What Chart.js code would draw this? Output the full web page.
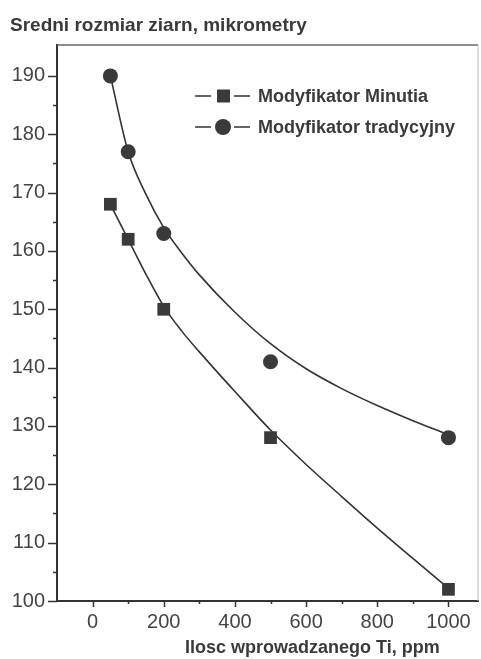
<!DOCTYPE html>
<html><head><meta charset="utf-8">
<script src="https://cdn.jsdelivr.net/npm/chart.js@4/dist/chart.umd.min.js"></script>
<style>html,body{margin:0;padding:0;background:#fff}#wrap{width:481px;height:659px;position:relative}</style>
</head><body><div id="wrap"><canvas id="c" width="481" height="659"></canvas></div>
<script>
// measured points
const doseTi = [50, 100, 200, 500, 1000];
const minutiaSize = [168, 162, 150, 128, 102];
const tradSize = [190, 177, 163, 141, 128];
// fitted curves
const minutiaFitX = [50, 100, 150, 200, 250, 300, 400, 500, 600, 700, 800, 900, 1000];
const minutiaFitY = [168, 162, 156, 150.5, 146.3, 142.7, 135.9, 129.3, 123.4, 117.9, 112.5, 107.3, 102.2];
const tradFitX = [50, 100, 150, 200, 250, 300, 400, 500, 600, 700, 800, 900, 1000];
const tradFitY = [190, 177, 169.7, 164.0, 159.7, 155.9, 149.5, 144.1, 139.8, 136.4, 133.5, 130.9, 128.5];
// ticks and labels
const xTickValues = [0, 100, 200, 300, 400, 500, 600, 700, 800, 900, 1000];
const xTickLabels = [0, 200, 400, 600, 800, 1000];
const yTickValues = [100, 105, 110, 115, 120, 125, 130, 135, 140, 145, 150, 155, 160, 165, 170, 175, 180, 185, 190];
const yTickLabels = [100, 110, 120, 130, 140, 150, 160, 170, 180, 190];
const yTitle = 'Sredni rozmiar ziarn, mikrometry';
const xTitle = 'Ilosc wprowadzanego Ti, ppm';
const legendLabels = ['Modyfikator Minutia', 'Modyfikator tradycyjny'];

const FONT = "'Liberation Sans', Arial, sans-serif";
const INK = '#3a3a3a';
const pts = (xs, ys) => xs.map((x, i) => ({x, y: ys[i]}));

const decor = {
  id: 'decor',
  beforeDatasetsDraw(chart) {
    const {ctx, chartArea: a} = chart;
    ctx.save();
    ctx.strokeStyle = '#666'; ctx.lineWidth = 1.5;
    ctx.beginPath(); ctx.moveTo(a.left, a.top); ctx.lineTo(a.right, a.top); ctx.stroke();
    ctx.strokeStyle = '#bbb'; ctx.lineWidth = 1;
    ctx.beginPath(); ctx.moveTo(a.right, a.top); ctx.lineTo(a.right, a.bottom); ctx.stroke();
    // tick marks
    ctx.strokeStyle = '#333'; ctx.lineWidth = 1.5;
    const xs = chart.scales.x, ys = chart.scales.y;
    xTickValues.forEach(v => {
      const len = v % 200 === 0 ? 6 : 3;
      const px = Math.round(xs.getPixelForValue(v)) + 0.5;
      ctx.beginPath(); ctx.moveTo(px, a.bottom); ctx.lineTo(px, a.bottom + len); ctx.stroke();
    });
    yTickValues.forEach(v => {
      const len = v % 10 === 0 ? 9 : 4;
      const py = Math.round(ys.getPixelForValue(v)) + 0.5;
      ctx.beginPath(); ctx.moveTo(a.left - len, py); ctx.lineTo(a.left, py); ctx.stroke();
    });
    ctx.restore();
  },
  afterDraw(chart) {
    const {ctx, chartArea: a} = chart;
    ctx.save();
    ctx.fillStyle = INK;
    ctx.textBaseline = 'alphabetic';
    ctx.font = 'bold 19px ' + FONT;
    ctx.fillText(yTitle, 10, 31);
    ctx.font = 'bold 18px ' + FONT;
    ctx.fillText(xTitle, 185, 653);
    // legend
    const rows = [a.top + 51, a.top + 82];
    ctx.font = 'bold 18px ' + FONT;
    ctx.textBaseline = 'middle';
    rows.forEach((y, i) => {
      ctx.strokeStyle = '#333'; ctx.lineWidth = 1.5;
      ctx.beginPath(); ctx.moveTo(195, y); ctx.lineTo(211, y); ctx.moveTo(234, y); ctx.lineTo(250, y); ctx.stroke();
      ctx.fillStyle = INK;
      if (i === 0) { ctx.fillRect(217, y - 6.5, 13, 13); }
      else { ctx.beginPath(); ctx.arc(223, y, 8, 0, Math.PI * 2); ctx.fill(); }
      ctx.fillText(legendLabels[i], 258, y + 1);
    });
    ctx.restore();
  }
};

new Chart(document.getElementById('c'), {
  type: 'scatter',
  data: {
    datasets: [
      {label: legendLabels[0], data: pts(doseTi, minutiaSize), pointStyle: 'rect', pointRadius: 9,
       backgroundColor: INK, borderColor: INK, borderWidth: 0, showLine: false},
      {label: legendLabels[1], data: pts(doseTi, tradSize), pointStyle: 'circle', pointRadius: 7.5,
       backgroundColor: INK, borderColor: INK, borderWidth: 0, showLine: false},
      {label: 'fitM', data: pts(minutiaFitX, minutiaFitY), showLine: true, pointRadius: 0,
       borderColor: '#333', borderWidth: 1.6, cubicInterpolationMode: 'monotone', fill: false},
      {label: 'fitT', data: pts(tradFitX, tradFitY), showLine: true, pointRadius: 0,
       borderColor: '#333', borderWidth: 1.6, cubicInterpolationMode: 'monotone', fill: false}
    ]
  },
  options: {
    responsive: false, animation: false, devicePixelRatio: 1,
    layout: {autoPadding: false, padding: {top: 45, right: 3, left: 0, bottom: 0}},
    plugins: {legend: {display: false}, tooltip: {enabled: false}, title: {display: false}},
    scales: {
      x: {
        type: 'linear', min: -100, max: 1083,
        afterBuildTicks: s => { s.ticks = xTickValues.map(v => ({value: v})); },
        afterFit: s => { s.height = 58; s.paddingLeft = 0; s.paddingRight = 0; },
        ticks: {autoSkip: false, maxRotation: 0, padding: 9, color: '#444',
          font: {size: 20, family: FONT},
          callback: v => xTickLabels.includes(v) ? String(v) : ''},
        grid: {drawOnChartArea: false, drawTicks: false},
        border: {color: '#333', width: 2}
      },
      y: {
        type: 'linear', min: 100, max: 195.3,
        afterBuildTicks: s => { s.ticks = yTickValues.map(v => ({value: v})); },
        afterFit: s => { s.width = 57; s.paddingTop = 0; s.paddingBottom = 0; },
        ticks: {autoSkip: false, padding: 12, color: '#444',
          font: {size: 20, family: FONT},
          callback: v => yTickLabels.includes(v) ? String(v) : ''},
        grid: {drawOnChartArea: false, drawTicks: false},
        border: {color: '#333', width: 2}
      }
    }
  },
  plugins: [decor]
});
</script></body></html>
